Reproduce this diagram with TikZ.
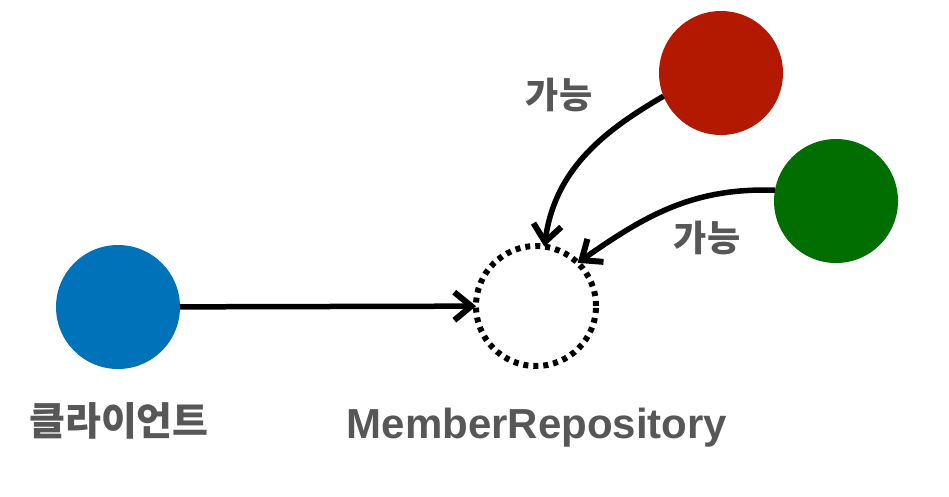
\documentclass[tikz,border=0pt]{standalone}
\usepackage{fontspec}
\setmainfont{Liberation Sans}
\newfontfamily\krfont{Noto Sans CJK KR}
\usetikzlibrary{arrows.meta,positioning}
\definecolor{diaBlue}{HTML}{0072B9}
\definecolor{diaRed}{HTML}{B31800}
\definecolor{diaGreen}{HTML}{006E00}
\definecolor{diaText}{HTML}{575757}
\tikzset{
  diaCircle/.style={
    circle,
    minimum size=124pt,
    inner sep=0pt,
    outer sep=0pt
  },
  diaDotted/.style={
    diaCircle,
    draw=black,
    line width=6pt,
    dash pattern=on 5pt off 5pt
  },
  diaArrow/.style={
    -{Straight Barb[length=17pt,width=28pt,line width=6pt]},
    line width=5.5pt,
    draw=black
  },
  diaName/.style={
    text=diaText,
    font=\fontsize{42}{46}\selectfont\bfseries,
    inner sep=0pt
  },
  diaNote/.style={
    text=diaText,
    font=\fontsize{36}{40}\selectfont\krfont\bfseries,
    inner sep=0pt
  }
}

\begin{document}
\begin{tikzpicture}[x=1pt,y=-1pt]
  \useasboundingbox (0,0) rectangle (949,496);

  \node[diaCircle, fill=diaBlue] (client) at (118,307) {};
  \node[diaDotted, minimum size=120pt] (repo) at (536,306) {};
  \node[diaCircle, fill=diaRed] (implA) at (721,73) {};
  \node[diaCircle, fill=diaGreen] (implB) at (836,201) {};

  \node[diaName, font=\fontsize{39}{43}\selectfont\krfont\bfseries] (clientName) at (119,421) {클라이언트};
  \node[diaName] (repoName) at (537,428) {MemberRepository};
  \node[diaNote] (noteA) at (559,95) {가능};
  \node[diaNote] (noteB) at (707,238) {가능};

  \draw[diaArrow] (client) -- (repo);
  \draw[diaArrow] (implA.202) to[out=210,in=82] (repo.82);
  \draw[diaArrow] (implB.170) to[out=178,in=35] (repo.46);
\end{tikzpicture}
\end{document}
